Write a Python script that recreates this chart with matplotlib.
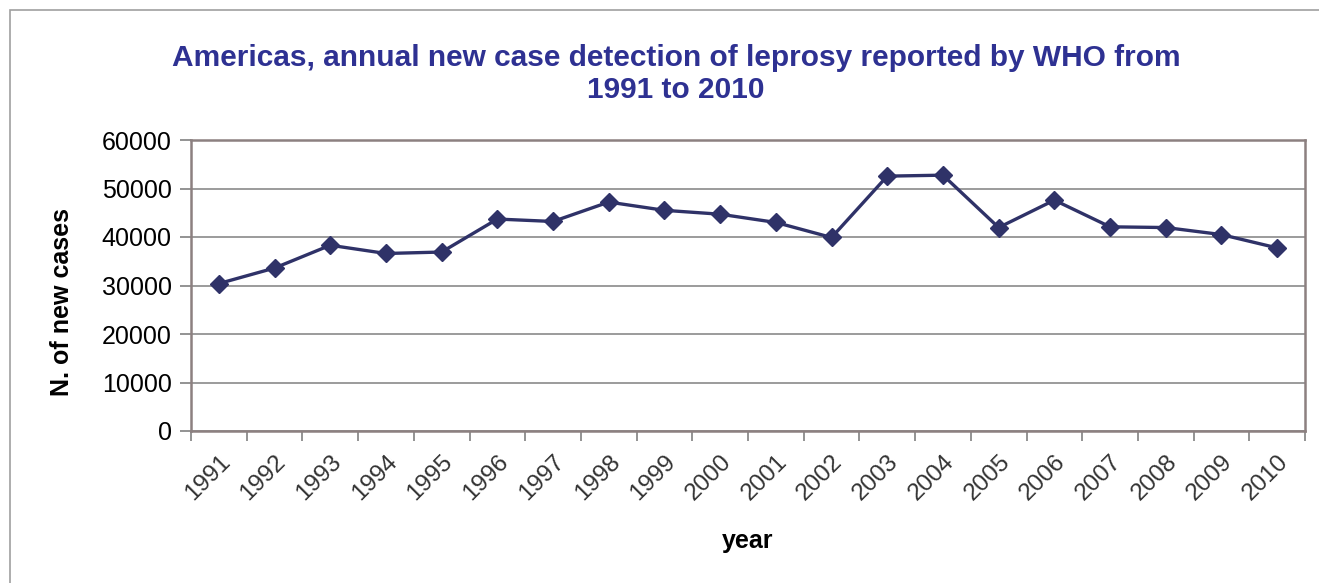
import matplotlib
matplotlib.use("Agg")
import matplotlib.pyplot as plt
from matplotlib.patches import Rectangle
from matplotlib.transforms import ScaledTranslation

years = ["1991", "1992", "1993", "1994", "1995", "1996", "1997", "1998", "1999", "2000",
         "2001", "2002", "2003", "2004", "2005", "2006", "2007", "2008", "2009", "2010"]
cases = [30400, 33600, 38300, 36600, 36900, 43700, 43200, 47200, 45500, 44700,
         43000, 39900, 52550, 52750, 41950, 47600, 42100, 41950, 40500, 37750]
yticks = [0, 10000, 20000, 30000, 40000, 50000, 60000]

plt.rcParams['font.family'] = ['Liberation Sans', 'DejaVu Sans']

fig = plt.figure(figsize=(13.19, 5.83), dpi=100)
fig.patch.set_facecolor('white')

# outer frame
fig.patches.append(Rectangle((10/1319, -0.1), 1.2, 1 - 10/583 + 0.1,
                             transform=fig.transFigure, fill=False,
                             edgecolor='#a0a0a0', linewidth=1.2))

ax = fig.add_axes([191/1319, 1 - 431/583, (1305 - 191)/1319, (431 - 140)/583])
x = list(range(len(years)))
ax.plot(x, cases, color='#2f3268', linewidth=2.4, marker='D', markersize=9.5,
        markerfacecolor='#2f3268', markeredgecolor='#2f3268', zorder=3)

ax.set_xlim(-0.5, len(years) - 0.5)
ax.set_ylim(0, 60000)
ax.set_yticks(yticks)
ax.set_yticklabels([str(v) for v in yticks], fontsize=18, color='black')
ax.yaxis.grid(True, color='#808080', linewidth=1.1)
ax.set_axisbelow(True)

ax.set_xticks(x)
ax.set_xticklabels(years, rotation=45, ha='right', rotation_mode='anchor',
                   fontsize=17.5, color='#333333')
offset = ScaledTranslation(-6/100, 0, fig.dpi_scale_trans)
for lbl in ax.get_xticklabels():
    lbl.set_transform(lbl.get_transform() + offset)
ax.tick_params(axis='x', length=0, pad=14)
ax.set_xticks([i - 0.5 for i in range(len(years) + 1)], minor=True)
ax.tick_params(axis='x', which='minor', length=7, color='#808080', width=1.2)
ax.tick_params(axis='y', length=8, color='#808080', width=1.2, pad=6)

for s in ax.spines.values():
    s.set_color('#8c8080')
    s.set_linewidth(1.8)

fig.text(676/1319, 1 - 74/583,
         "Americas, annual new case detection of leprosy reported by WHO from\n1991 to 2010",
         ha='center', va='center', multialignment='center', fontsize=21.5,
         fontweight='bold', color='#2e3192', linespacing=1.2)
fig.text(62/1319, 1 - 302/583, "N. of new cases", rotation=90, ha='center',
         va='center', fontsize=18, fontweight='bold', color='black')
fig.text(748/1319, 1 - 541/583, "year", ha='center', va='center', fontsize=18,
         fontweight='bold', color='black')

fig.savefig("out.png", dpi=100, facecolor='white')
